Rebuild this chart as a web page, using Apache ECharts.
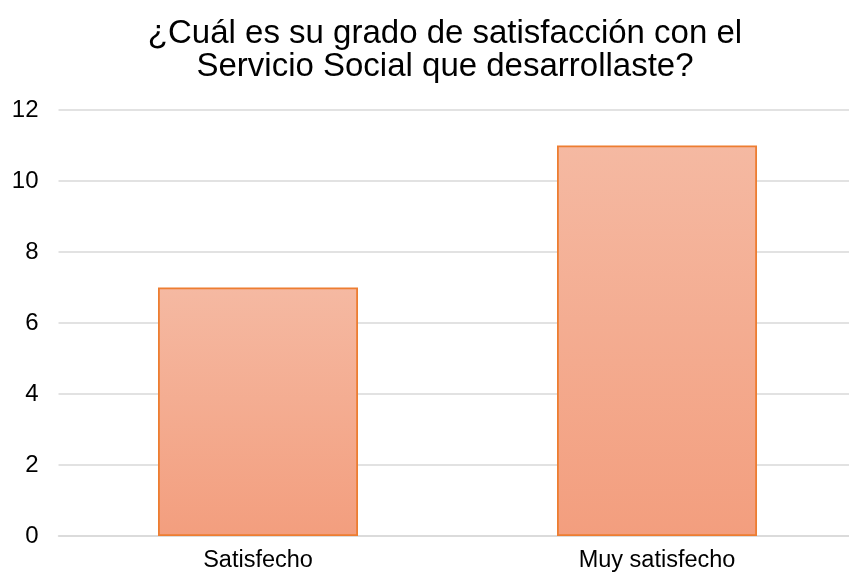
<!DOCTYPE html>
<html>
<head>
<meta charset="utf-8">
<script src="https://cdn.jsdelivr.net/npm/echarts@6/dist/echarts.min.js"></script>
<style>
  html, body { margin: 0; padding: 0; background: #fff; }
  #chart { width: 849px; height: 579px; }
</style>
</head>
<body>
<div id="chart"></div>
<script>
// datos
var categorias = ['Satisfecho', 'Muy satisfecho'];
var valores = [7, 11];
var ejeMin = 0, ejeMax = 12, ejeIntervalo = 2;

var myChart = echarts.init(document.getElementById('chart'));
var option = {
  backgroundColor: '#ffffff',
  title: {
    text: '¿Cuál es su grado de satisfacción con el\nServicio Social que desarrollaste?',
    left: 440,
    top: 12,
    textAlign: 'center',
    textStyle: {
      fontFamily: 'Liberation Sans',
      fontSize: 33,
      fontWeight: 'normal',
      color: '#000',
      lineHeight: 33
    }
  },
  grid: {
    left: 58.5,
    top: 110,
    bottom: 43,
    width: 798,
    outerBoundsMode: 'none'
  },
  xAxis: {
    type: 'category',
    data: categorias,
    axisTick: { show: false },
    axisLine: { lineStyle: { color: '#d9d9d9', width: 1.5 } },
    axisLabel: {
      color: '#000',
      fontSize: 23.5,
      fontFamily: 'Liberation Sans',
      margin: 13
    }
  },
  yAxis: {
    type: 'value',
    min: ejeMin,
    max: ejeMax,
    interval: ejeIntervalo,
    axisLine: { show: false },
    axisTick: { show: false },
    splitLine: { lineStyle: { color: '#d9d9d9', width: 1.5 } },
    axisLabel: {
      color: '#000',
      fontSize: 24,
      fontFamily: 'Liberation Sans',
      margin: 20
    }
  },
  series: [{
    type: 'bar',
    data: valores,
    barWidth: 200,
    itemStyle: {
      color: new echarts.graphic.LinearGradient(0, 0, 0, 1, [
        { offset: 0, color: '#f5b9a2' },
        { offset: 1, color: '#f39e7e' }
      ]),
      borderColor: '#ed7d31',
      borderWidth: 1.8
    }
  }]
};
myChart.setOption(option);
</script>
</body>
</html>
